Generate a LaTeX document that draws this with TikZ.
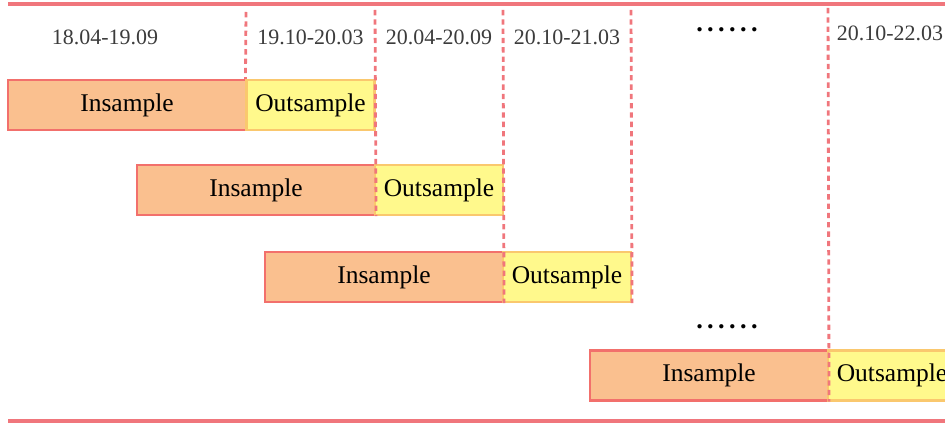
\documentclass[tikz,border=0pt]{standalone}
\usepackage{fontspec}
\setmainfont{Liberation Serif}
\definecolor{rule}{RGB}{240,118,124}
\definecolor{infill}{RGB}{250,192,143}
\definecolor{indraw}{RGB}{242,112,108}
\definecolor{outfill}{RGB}{255,249,140}
\definecolor{outdraw}{RGB}{250,200,110}
\definecolor{datecol}{RGB}{60,60,60}

\begin{document}
\begin{tikzpicture}[x=0.02cm,y=-0.02cm,
  insample/.style={rectangle,draw=indraw,fill=infill,line width=1.2pt,minimum width=4.76cm,minimum height=1cm,inner sep=0pt,font=\fontsize{14.5}{16}\selectfont},
  outsample/.style={rectangle,draw=outdraw,fill=outfill,line width=1.2pt,minimum width=2.56cm,minimum height=1cm,inner sep=0pt,font=\fontsize{14.5}{16}\selectfont},
  period/.style={inner sep=0pt,text=datecol,font=\fontsize{12.5}{14}\selectfont},
  gap/.style={inner sep=0pt,font=\fontsize{15}{16}\selectfont\bfseries},
  cut/.style={draw=rule,line width=1.6pt,dash pattern=on 3pt off 2.3pt}]
\useasboundingbox (0,0) rectangle (945,425);

% rolling windows
\node[insample] (in1) at (127,105) {Insample};
\node[outsample] (out1) at (310.5,105) {Outsample};
\node[insample] (in2) at (256,190) {Insample};
\node[outsample] (out2) at (439,190) {Outsample};
\node[insample] (in3) at (384,277) {Insample};
\node[outsample] (out3) at (567,277) {Outsample};
\node[insample] (in4) at (709,375.5) {Insample};
\node[outsample] (out4) at (892,375.5) {Outsample};

% periods
\node[period] (p1) at (105,37) {18.04-19.09};
\node[period] (p2) at (310.5,37) {19.10-20.03};
\node[period] (p3) at (439,37) {20.04-20.09};
\node[period] (p4) at (567,37) {20.10-21.03};
\node[gap] (d1) at (727,30) {.\,.\,.\,.\,.\,.};
\node[gap] (d2) at (727,327) {.\,.\,.\,.\,.\,.};
\node[period] (p5) at (890,33) {20.10-22.03};

% split lines
\coordinate (c1) at (246,12);
\coordinate (c2) at (375,10);
\coordinate (c3) at (503,10);
\coordinate (c4) at (631,10);
\coordinate (c5) at (828,8);
\draw[cut] (c1) -- (out1.north west);
\draw[cut] (c2) -- (in2.south east);
\draw[cut] (c3) -- (in3.south east);
\draw[cut] (c4) -- (out3.south east);
\draw[cut] (c5) -- (in4.south east);

% frame
\coordinate (top1) at (8,4);
\coordinate (top2) at (945,4);
\coordinate (bot1) at (8,421);
\coordinate (bot2) at (945,421);
\draw[rule,line width=2.4pt] (top1) -- (top2);
\draw[rule,line width=2.4pt] (bot1) -- (bot2);
\end{tikzpicture}
\end{document}
